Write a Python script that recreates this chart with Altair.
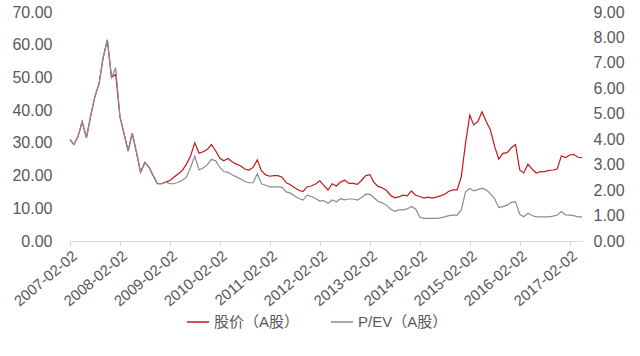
import altair as alt
import pandas as pd

# Monthly readings, Feb 2007 .. May 2017
price = [31, 29.5, 32, 36.5, 31.5, 38, 44, 48, 56, 61.5, 50, 51,
         38, 33, 27.5, 33, 27, 21, 24, 22.5, 20, 17.5, 17.5, 18,
         18.5, 19.5, 20.5, 21.5, 23.5, 26, 30, 26.8, 27.3, 28, 29.5, 27.5,
         25.3, 24.5, 25.2, 24.2, 23.5, 23, 22, 21.7, 22.5, 24.8, 21.5, 20.2,
         19.8, 20, 20, 19.5, 17.8, 17.2, 16.3, 15.5, 15.1, 16.6, 16.8, 17.4,
         18.4, 17, 15.6, 17.5, 16.8, 18, 18.6, 17.6, 17.6, 17.3, 18.5, 20,
         20.3, 18, 16.7, 16.3, 15.5, 14, 13.2, 13.5, 14, 13.8, 15.3, 14,
         13.6, 13.1, 13.4, 13.1, 13.4, 13.8, 14.3, 15.2, 15.6, 15.6, 19.7, 30,
         38.5, 35.5, 36.5, 39.5, 36.5, 34, 29, 25, 26.8, 27, 28.5, 29.5,
         21.7, 20.8, 23.5, 22, 20.8, 21.2, 21.2, 21.6, 21.7, 22, 26, 25.5,
         26.3, 26.5, 25.6, 25.5]

pev = [3.99, 3.79, 4.11, 4.69, 4.05, 4.89, 5.66, 6.17, 7.20, 7.91, 6.43, 6.81,
       4.89, 4.24, 3.54, 4.24, 3.47, 2.70, 3.09, 2.89, 2.57, 2.25, 2.25, 2.31,
       2.25, 2.25, 2.31, 2.39, 2.51, 2.89, 3.34, 2.79, 2.87, 3.00, 3.21, 3.15,
       2.89, 2.73, 2.70, 2.60, 2.52, 2.44, 2.35, 2.29, 2.29, 2.64, 2.25, 2.19,
       2.13, 2.13, 2.13, 2.11, 1.93, 1.88, 1.77, 1.67, 1.61, 1.80, 1.75, 1.67,
       1.57, 1.59, 1.48, 1.61, 1.54, 1.66, 1.62, 1.65, 1.65, 1.61, 1.70, 1.84,
       1.83, 1.71, 1.56, 1.50, 1.41, 1.26, 1.17, 1.22, 1.22, 1.26, 1.36, 1.26,
       0.93, 0.89, 0.89, 0.89, 0.89, 0.91, 0.95, 1.00, 1.02, 1.02, 1.22, 1.93,
       2.06, 1.97, 2.02, 2.08, 2.01, 1.86, 1.67, 1.31, 1.35, 1.41, 1.52, 1.54,
       1.05, 0.95, 1.09, 1.00, 0.95, 0.95, 0.95, 0.95, 0.98, 1.02, 1.16, 1.03,
       1.02, 1.00, 0.95, 0.95]

series_names = ["股价（A股）", "P/EV（A股）"]
tick_years = list(range(2007, 2018))
left_ticks = [0, 10, 20, 30, 40, 50, 60, 70]
right_ticks = [0, 1, 2, 3, 4, 5, 6, 7, 8, 9]

dates = pd.date_range("2007-02-01", periods=len(price), freq="MS") + pd.Timedelta(days=1)
df = pd.concat([
    pd.DataFrame({"date": dates, "series": series_names[0], "value": price}),
    pd.DataFrame({"date": dates, "series": series_names[1], "value": pev}),
])

FONT = "Liberation Sans, Noto Sans CJK SC"
TXT = "#595959"

x_enc = alt.X(
    "date:T",
    scale=alt.Scale(domain=[alt.DateTime(year=2007, month=2, date=2),
                            alt.DateTime(year=2017, month=5, date=2)]),
    axis=alt.Axis(
        values=[alt.DateTime(year=y, month=2, date=2) for y in tick_years],
        format="%Y-%m-%d", labelAngle=-40, labelFontSize=15, labelColor=TXT,
        labelFont=FONT, domainColor="#d9d9d9", tickColor="#d9d9d9", tickSize=5,
        labelPadding=2, grid=False, title=None, labelOverlap=False,
    ),
)

color_enc = alt.Color(
    "series:N",
    scale=alt.Scale(domain=series_names, range=["#C8161D", "#8C8C8C"]),
    legend=alt.Legend(
        title=None, orient="none", legendX=116, legendY=298, direction="horizontal",
        symbolType="stroke", symbolSize=484, symbolStrokeWidth=1.5,
        labelFontSize=15, labelColor=TXT, labelFont=FONT, labelOffset=4,
        columnPadding=28,
    ),
)

left = alt.Chart(df).transform_filter(
    alt.datum.series == series_names[0]
).mark_line(strokeWidth=1.2).encode(
    x=x_enc,
    y=alt.Y("value:Q", scale=alt.Scale(domain=[0, 70]),
            axis=alt.Axis(values=left_ticks, format=".2f", orient="left", grid=False,
                          domain=False, ticks=False, tickSize=0, labelPadding=18,
                          labelFontSize=16, labelColor=TXT, labelFont=FONT, title=None)),
    color=color_enc,
)

right = alt.Chart(df).transform_filter(
    alt.datum.series == series_names[1]
).mark_line(strokeWidth=1.2).encode(
    x=x_enc,
    y=alt.Y("value:Q", scale=alt.Scale(domain=[0, 9]),
            axis=alt.Axis(values=right_ticks, format=".2f", orient="right", grid=False,
                          domain=False, ticks=False, tickSize=0, labelPadding=11,
                          labelFontSize=16, labelColor=TXT, labelFont=FONT, title=None)),
    color=color_enc,
)

chart = alt.layer(left, right).resolve_scale(y="independent").properties(
    width=512, height=229,
    autosize=alt.AutoSizeParams(type="none"),
    padding={"left": 70, "top": 12, "right": 58, "bottom": 115},
    background="white",
).configure_view(stroke=None)

chart.save("out.html", embed_options={"renderer": "svg", "actions": False})
